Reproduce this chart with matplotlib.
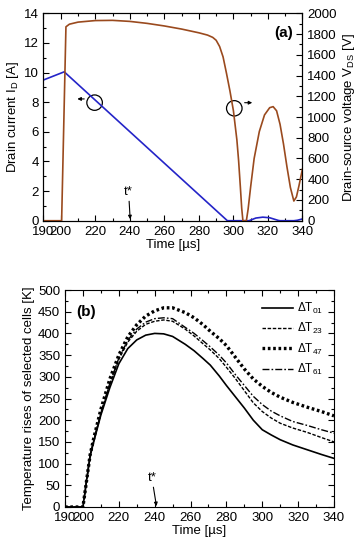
import matplotlib
matplotlib.use('Agg')
import matplotlib.pyplot as plt
from matplotlib.ticker import MultipleLocator
from matplotlib.patches import Ellipse

plt.rcParams['font.family'] = ['Liberation Sans', 'DejaVu Sans']
plt.rcParams['mathtext.fontset'] = 'custom'
plt.rcParams['mathtext.rm'] = 'Liberation Sans'
plt.rcParams['mathtext.it'] = 'Liberation Sans'

# (a) drain current / drain-source voltage
t_id = [190, 202, 296.5, 309, 313, 317, 321, 326, 327, 335, 337, 340]
i_d = [9.5, 10.05, 0, 0, 0.18, 0.24, 0.2, 0.02, 0, 0, 0.03, 0.12]

t_vds = [190, 200.5, 203, 205, 210, 220, 230, 240, 250, 260, 270, 280, 285, 288,
         290, 292, 294, 296, 298, 300, 302, 303, 304, 304.8, 305.5, 307.5, 308.5,
         310, 312, 315, 318, 321, 323, 325, 327, 329, 331, 333, 335, 336.5, 338, 340]
v_ds = [0, 0, 1870, 1895, 1915, 1930, 1932, 1922, 1903, 1878, 1848, 1812, 1790, 1768,
        1740, 1680, 1580, 1420, 1250, 1060, 780, 580, 330, 120, 0, 0, 110,
        330, 600, 860, 1020, 1090, 1100, 1060, 930, 740, 520, 320, 190, 230, 340, 500]

# (b) temperature rises
t_b = [190, 200, 202, 204, 206, 210, 215, 220, 225, 230, 235, 240, 245, 250, 257,
       262, 267, 271, 276, 280, 285, 290, 295, 300, 305, 310, 317, 325, 333, 340]
dT01 = [0, 0, 60, 118, 150, 212, 275, 330, 365, 385, 396, 400, 399, 393, 375,
        360, 342, 327, 302, 280, 254, 228, 200, 178, 166, 155, 143, 132, 121, 112]
dT23 = [0, 0, 60, 118, 152, 215, 282, 340, 380, 405, 421, 428, 431, 428, 410,
        394, 376, 362, 342, 322, 296, 268, 240, 220, 205, 193, 182, 172, 160, 150]
dT47 = [0, 0, 60, 120, 158, 225, 295, 350, 392, 420, 440, 452, 459, 459, 448,
        436, 420, 405, 388, 372, 345, 318, 295, 278, 264, 253, 241, 230, 220, 210]
dT61 = [0, 0, 60, 118, 153, 217, 285, 343, 384, 410, 426, 434, 436, 434, 414,
        400, 383, 369, 350, 332, 305, 280, 255, 236, 221, 210, 197, 188, 178, 170]

x_ticks = [190, 200, 220, 240, 260, 280, 300, 320, 340]

fig = plt.figure(figsize=(3.64, 5.5), dpi=100)


def style_axis(ax):
    ax.tick_params(which='both', direction='in', labelsize=9.5)
    ax.tick_params(which='major', length=4, width=0.8)
    ax.tick_params(which='minor', length=2.5, width=0.8)
    for s in ax.spines.values():
        s.set_linewidth(0.8)


# --- panel (a) ---
ax1 = fig.add_axes([0.1195, 0.5987, 0.7115, 0.3771])
ax1.plot(t_id, i_d, color='#2424c8', lw=1.2)
ax1.set_xlim(190, 340)
ax1.set_ylim(0, 14)
ax1.set_xticks(x_ticks)
ax1.xaxis.set_minor_locator(MultipleLocator(10))
ax1.yaxis.set_major_locator(MultipleLocator(2))
ax1.yaxis.set_minor_locator(MultipleLocator(1))
ax1.tick_params(which='both', top=True)
ax1.set_xlabel('Time [µs]', fontsize=9.5, labelpad=1)
ax1.set_ylabel('Drain current I$_\\mathregular{D}$ [A]', fontsize=9.5, labelpad=2)
style_axis(ax1)

ax2 = ax1.twinx()
ax2.plot(t_vds, v_ds, color='#9a4a1e', lw=1.2)
ax2.set_ylim(0, 2000)
ax2.yaxis.set_major_locator(MultipleLocator(200))
ax2.yaxis.set_minor_locator(MultipleLocator(100))
ax2.set_ylabel('Drain-source voltage V$_\\mathregular{DS}$ [V]', fontsize=9.5, labelpad=3)
style_axis(ax2)

ax1.add_patch(Ellipse((219.6, 7.97), 9.0, 1.04, fill=False, lw=0.9, color='black'))
ax1.annotate('', xy=(208, 8.22), xytext=(215.2, 8.22),
             arrowprops=dict(arrowstyle='-|>', color='black', lw=0.8, mutation_scale=5))
ax2.add_patch(Ellipse((300.5, 1084), 9.0, 148, fill=False, lw=0.9, color='black'))
ax2.annotate('', xy=(312.5, 1138), xytext=(304.9, 1138),
             arrowprops=dict(arrowstyle='-|>', color='black', lw=0.8, mutation_scale=5))
ax1.annotate('t*', xy=(240.2, 0.1), xytext=(239.3, 1.5), ha='center', va='bottom', fontsize=9.5,
             arrowprops=dict(arrowstyle='-|>', color='black', lw=0.8, mutation_scale=5,
                             shrinkA=0, shrinkB=0))
ax1.text(329, 12.7, '(a)', fontsize=11, fontweight='bold', ha='center', va='center')

# --- panel (b) ---
ax3 = fig.add_axes([0.1786, 0.0782, 0.739, 0.3945])
ax3.plot(t_b, dT01, color='black', lw=1.2, ls='-', label='ΔT$_\\mathregular{01}$')
ax3.plot(t_b, dT23, color='black', lw=1.0, ls=(0, (2.5, 1.2)), label='ΔT$_\\mathregular{23}$')
ax3.plot(t_b, dT47, color='black', lw=2.4, ls=(0, (0.8, 0.8)), label='ΔT$_\\mathregular{47}$')
ax3.plot(t_b, dT61, color='black', lw=1.0, ls=(0, (5, 1.5, 1.2, 1.5)), label='ΔT$_\\mathregular{61}$')
ax3.set_xlim(190, 340)
ax3.set_ylim(0, 500)
ax3.set_xticks(x_ticks)
ax3.xaxis.set_minor_locator(MultipleLocator(10))
ax3.yaxis.set_major_locator(MultipleLocator(50))
ax3.yaxis.set_minor_locator(MultipleLocator(25))
ax3.tick_params(which='both', top=True, right=True)
ax3.set_xlabel('Time [µs]', fontsize=9.5, labelpad=1)
ax3.set_ylabel('Temperature rises of selected cells [K]', fontsize=9.5, labelpad=2)
style_axis(ax3)
ax3.legend(loc='upper right', frameon=False, fontsize=8.5, handlelength=2.6,
           handletextpad=0.4, labelspacing=0.45, borderaxespad=0.5)
ax3.annotate('t*', xy=(241, 2), xytext=(238.5, 52), ha='center', va='bottom', fontsize=9.5,
             arrowprops=dict(arrowstyle='-|>', color='black', lw=0.8, mutation_scale=5,
                             shrinkA=0, shrinkB=0))
ax3.text(202, 450, '(b)', fontsize=11, fontweight='bold', ha='center', va='center')

fig.savefig('out.png', dpi=100)
